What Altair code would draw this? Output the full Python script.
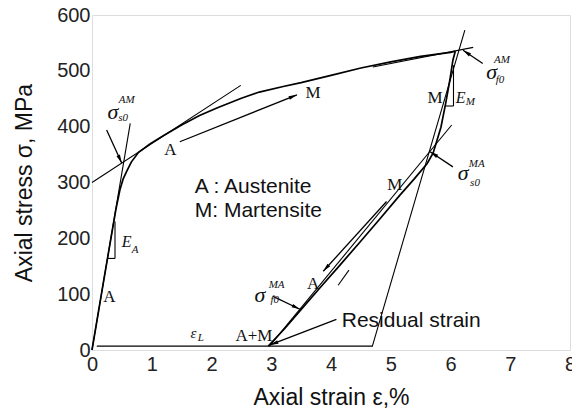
import math
import altair as alt
import pandas as pd

# Loading branch (austenite -> martensite)
load_strain = [0.0, 0.20, 0.40, 0.47, 0.52, 0.58, 0.66, 0.78, 0.97, 1.20, 1.50, 1.80,
               2.10, 2.50, 2.80, 3.20, 3.50, 4.00, 4.50, 5.00, 5.50, 6.00, 6.08]
load_stress = [0, 127, 252, 288, 306, 320, 337, 354, 369, 384, 403, 420,
               434, 451, 462, 472, 479, 492, 505, 516, 526, 533, 535]

# Unloading branch (martensite -> austenite)
unload_strain = [6.08, 6.04, 5.99, 5.92, 5.84, 5.71, 5.61, 5.39, 5.15, 4.82, 4.49,
                 4.15, 3.82, 3.48, 3.23, 2.95]
unload_stress = [535, 519, 484, 442, 399, 353, 334, 306, 277, 235, 194,
                 152, 112, 70, 39, 7]

# Straight construction lines: tangents, slope triangles, residual-strain base line
seg_x0 = [0.00, 0.00, 0.385, 0.26, 4.70, 4.69, 5.91, 6.05, 2.97, 4.12, 0.08]
seg_y0 = [0, 300, 230, 164, 507, 6, 437, 437, 7, 116, 7]
seg_x1 = [0.64, 2.49, 0.385, 0.385, 6.38, 6.24, 6.05, 6.05, 6.02, 4.30, 4.69]
seg_y1 = [406, 474, 164, 164, 542, 573, 437, 510, 403, 143, 7]

# Arrows: start -> tip
arr_x0 = [1.47, 0.245, 6.54, 6.04, 3.03, 4.93, 4.09]
arr_y0 = [373, 394, 513, 328, 96, 266, 55]
arr_x1 = [3.43, 0.497, 6.21, 5.66, 3.48, 3.87, 2.98]
arr_y1 = [457, 335, 537, 355, 73, 141, 9]

# Phase labels (upright serif)
phase_text = ["A", "A", "M", "M", "A", "M", "A+M"]
phase_x = [0.29, 1.31, 3.70, 5.07, 3.70, 5.74, 2.71]
phase_y = [95, 358, 460, 296, 119, 451, 25]

# Large italic symbols
sym_text = ["σ", "σ", "σ", "σ", "E", "E", "ε"]
sym_x = [0.35, 6.69, 6.21, 2.81, 0.58, 6.17, 1.70]
sym_y = [426, 498, 317, 98, 194, 451, 31]
sym_size = [22, 22, 22, 22, 16, 16, 15]

# Small italic super/subscripts
idx_text = ["AM", "s0", "AM", "f0", "MA", "s0", "MA", "f0", "A", "M", "L"]
idx_x = [0.58, 0.52, 6.86, 6.83, 6.44, 6.41, 3.09, 3.06, 0.72, 6.33, 1.82]
idx_y = [448, 416, 519, 484, 334, 299, 116, 90, 179, 444, 21]

# Sans-serif notes
note_text = ["A : Austenite", "M: Martensite", "Residual strain"]
note_x = [1.72, 1.72, 4.18]
note_y = [281, 239, 42]

W, H = 478, 335
X_MAX, Y_MAX = 8, 600
px_x = W / X_MAX
px_y = H / Y_MAX

curve_df = pd.DataFrame(
    {
        "strain": load_strain + unload_strain,
        "stress": load_stress + unload_stress,
        "branch": ["load"] * len(load_strain) + ["unload"] * len(unload_strain),
        "i": list(range(len(load_strain))) + list(range(len(unload_strain))),
    }
)
seg_df = pd.DataFrame({"x0": seg_x0, "y0": seg_y0, "x1": seg_x1, "y1": seg_y1})
arr_df = pd.DataFrame({"x0": arr_x0, "y0": arr_y0, "x1": arr_x1, "y1": arr_y1})
# heading of each arrow on screen (clockwise from up)
arr_df["angle"] = [
    math.degrees(math.atan2((b - a) * px_x, (d - c) * px_y)) % 360
    for a, b, c, d in zip(arr_x0, arr_x1, arr_y0, arr_y1)
]
phase_df = pd.DataFrame({"t": phase_text, "x": phase_x, "y": phase_y})
sym_df = pd.DataFrame({"t": sym_text, "x": sym_x, "y": sym_y, "s": sym_size})
idx_df = pd.DataFrame({"t": idx_text, "x": idx_x, "y": idx_y})
note_df = pd.DataFrame({"t": note_text, "x": note_x, "y": note_y})

xs = alt.Scale(domain=[0, X_MAX], nice=False, zero=False)
ys = alt.Scale(domain=[0, Y_MAX], nice=False, zero=False)

x_axis = alt.Axis(
    values=list(range(0, 9)), format="d", title="Axial strain ε,%", grid=False,
    domain=False, ticks=False, labelPadding=4, labelFontSize=20,
    labelFont="Liberation Sans", labelColor="#222", titleFontSize=23,
    titleFont="Liberation Sans", titleFontWeight="normal", titleColor="#111",
    titlePadding=12, labelOverlap=False, labelFlush=False,
)
y_axis = alt.Axis(
    values=list(range(0, 601, 100)), format="d", title="Axial stress σ, MPa",
    grid=False, domain=False, ticks=False, labelPadding=2, labelFontSize=20,
    labelFont="Liberation Sans", labelColor="#222", titleFontSize=23,
    titleFont="Liberation Sans", titleFontWeight="normal", titleColor="#111",
    titlePadding=20, labelOverlap=False, labelFlush=False,
)

curves = alt.Chart(curve_df).mark_line(color="black", strokeWidth=1.7).encode(
    x=alt.X("strain:Q", scale=xs, axis=x_axis),
    y=alt.Y("stress:Q", scale=ys, axis=y_axis),
    detail="branch:N",
    order="i:Q",
)

segs = alt.Chart(seg_df).mark_rule(color="black", strokeWidth=1.1).encode(
    x=alt.X("x0:Q", scale=xs), y=alt.Y("y0:Q", scale=ys), x2="x1:Q", y2="y1:Q"
)

shafts = alt.Chart(arr_df).mark_rule(color="black", strokeWidth=1.3).encode(
    x=alt.X("x0:Q", scale=xs), y=alt.Y("y0:Q", scale=ys), x2="x1:Q", y2="y1:Q"
)

heads = alt.Chart(arr_df).mark_point(
    shape="M0,0L0.45,2L-0.45,2Z", filled=True, color="black", size=70, opacity=1
).encode(
    x=alt.X("x1:Q", scale=xs), y=alt.Y("y1:Q", scale=ys),
    angle=alt.Angle("angle:Q", scale=None),
)

phase = alt.Chart(phase_df).mark_text(
    font="Liberation Serif", fontSize=17, color="#111", baseline="middle", align="center"
).encode(x=alt.X("x:Q", scale=xs), y=alt.Y("y:Q", scale=ys), text="t:N")

syms = alt.Chart(sym_df).mark_text(
    font="Liberation Serif", fontStyle="italic", color="#111",
    baseline="middle", align="center"
).encode(
    x=alt.X("x:Q", scale=xs), y=alt.Y("y:Q", scale=ys), text="t:N",
    size=alt.Size("s:Q", scale=None),
)

idx = alt.Chart(idx_df).mark_text(
    font="Liberation Serif", fontStyle="italic", fontSize=11, color="#111",
    baseline="middle", align="center"
).encode(x=alt.X("x:Q", scale=xs), y=alt.Y("y:Q", scale=ys), text="t:N")

notes = alt.Chart(note_df).mark_text(
    font="Liberation Sans", fontSize=21, color="#111",
    baseline="alphabetic", align="left"
).encode(x=alt.X("x:Q", scale=xs), y=alt.Y("y:Q", scale=ys), text="t:N")

chart = (
    alt.layer(curves, segs, shafts, heads, phase, syms, idx, notes)
    .properties(
        width=W, height=H,
        autosize=alt.AutoSizeParams(type="none"),
        padding={"left": 92, "top": 15, "right": 2, "bottom": 62},
    )
    .configure_view(stroke="#444", strokeWidth=2)
    .configure(background="white")
)

chart.save("out.html", embed_options={"renderer": "svg", "actions": False})
